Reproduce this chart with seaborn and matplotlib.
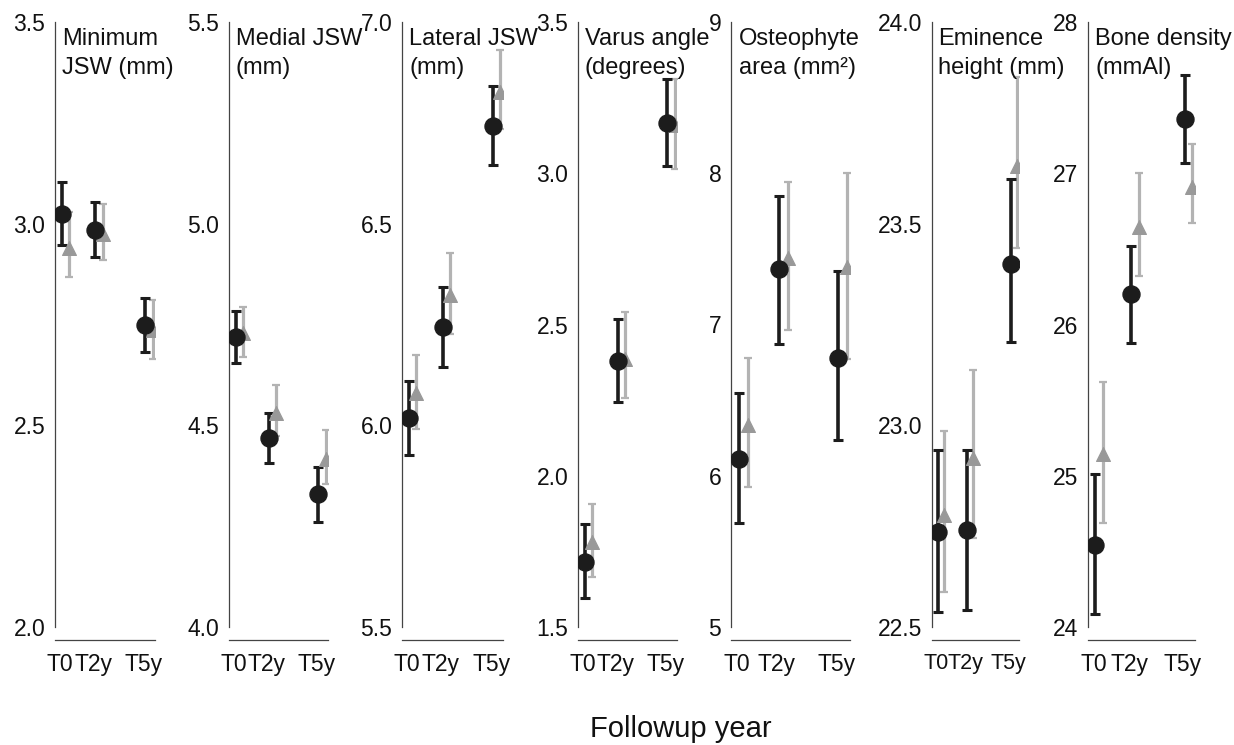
import matplotlib
matplotlib.use("Agg")
import matplotlib.pyplot as plt
import seaborn as sns
import pandas as pd

# follow-up years and their labels
years = [0, 2, 5]
year_labels = ["T0", "T2y", "T5y"]

titles = [("Minimum", "JSW (mm)"), ("Medial JSW", "(mm)"), ("Lateral JSW", "(mm)"),
          ("Varus angle", "(degrees)"), ("Osteophyte", "area (mm²)"),
          ("Eminence", "height (mm)"), ("Bone density", "(mmAl)")]
ylims = [(2.0, 3.5), (4.0, 5.5), (5.5, 7.0), (1.5, 3.5), (5, 9), (22.5, 24.0), (24, 28)]
yticks = [[2.0, 2.5, 3.0, 3.5], [4.0, 4.5, 5.0, 5.5], [5.5, 6.0, 6.5, 7.0],
          [1.5, 2.0, 2.5, 3.0, 3.5], [5, 6, 7, 8, 9],
          [22.5, 23.0, 23.5, 24.0], [24, 25, 26, 27, 28]]
ytick_fmt = ["{:.1f}", "{:.1f}", "{:.1f}", "{:.1f}", "{:.0f}", "{:.1f}", "{:.0f}"]

# black circles: mean and error bar ends, per panel (T0, T2y, T5y)
circ_mean = [[3.025, 2.985, 2.75], [4.72, 4.469, 4.329], [6.017, 6.245, 6.743],
             [1.715, 2.38, 3.165], [6.113, 7.364, 6.78], [22.736, 22.74, 23.40],
             [24.543, 26.2, 27.36]]
circ_lo = [[2.948, 2.918, 2.682], [4.655, 4.406, 4.261], [5.926, 6.145, 6.645],
           [1.597, 2.245, 3.024], [5.686, 6.87, 6.234], [22.537, 22.541, 23.207],
           [24.088, 25.88, 27.071]]
circ_hi = [[3.104, 3.053, 2.816], [4.783, 4.531, 4.396], [6.111, 6.344, 6.842],
           [1.84, 2.518, 3.31], [6.55, 7.85, 7.355], [22.94, 22.94, 23.61],
           [25.011, 26.518, 27.649]]

# grey triangles
tri_mean = [[2.94, 2.975, 2.737], [4.728, 4.53, 4.416], [6.079, 6.323, 6.827],
            [1.78, 2.387, 3.16], [6.333, 7.437, 7.38], [22.777, 22.919, 23.643],
            [25.143, 26.644, 26.911]]
tri_lo = [[2.868, 2.91, 2.665], [4.67, 4.474, 4.354], [5.99, 6.226, 6.734],
          [1.666, 2.257, 3.014], [5.925, 6.962, 6.775], [22.587, 22.72, 23.439],
          [24.686, 26.322, 26.673]]
tri_hi = [[3.028, 3.048, 2.81], [4.793, 4.60, 4.488], [6.174, 6.428, 6.931],
          [1.906, 2.54, 3.31], [6.78, 7.945, 8.0], [22.986, 23.136, 23.864],
          [25.62, 27.0, 27.193]]

sns.set_style("white")
plt.rcParams['font.family'] = ['Liberation Sans', 'DejaVu Sans']

W, H = 1234, 745
fig = plt.figure(figsize=(W / 100, H / 100), dpi=100)

# panel extents in pixels (left spine, right end of x axis)
lefts = [55, 229, 402, 578, 731, 932, 1088]
rights = [155, 328, 503, 677, 850, 1019, 1195]
top_px, bot_px = 22, 627

black = "#1c1c1c"
grey = "#b3b3b3"
tri_col = "#999999"

for i in range(7):
    ax = fig.add_axes([lefts[i] / W, (H - bot_px) / H,
                       (rights[i] - lefts[i]) / W, (bot_px - top_px) / H])
    xc = [y + 0.12 for y in years]
    xt = [y + 0.55 for y in years]
    ax.errorbar(xc, circ_mean[i],
                yerr=[[m - l for m, l in zip(circ_mean[i], circ_lo[i])],
                      [h - m for m, h in zip(circ_mean[i], circ_hi[i])]],
                fmt="none", ecolor=black, elinewidth=2.6, capsize=3.3, capthick=2.2, zorder=2)
    ax.errorbar(xt, tri_mean[i],
                yerr=[[m - l for m, l in zip(tri_mean[i], tri_lo[i])],
                      [h - m for m, h in zip(tri_mean[i], tri_hi[i])]],
                fmt="none", ecolor=grey, elinewidth=2.3, capsize=2.6, capthick=1.6, zorder=1)
    dc = pd.DataFrame({"x": xc, "y": circ_mean[i]})
    dt = pd.DataFrame({"x": xt, "y": tri_mean[i]})
    sns.scatterplot(data=dt, x="x", y="y", marker="^", s=100, color=tri_col,
                    edgecolor=tri_col, ax=ax, zorder=3)
    sns.scatterplot(data=dc, x="x", y="y", marker="o", s=150, color=black,
                    edgecolor=black, ax=ax, zorder=4)

    ax.set_xlim(-0.3, 5.7)
    ax.set_ylim(*ylims[i])
    ax.set_xticks(years)
    ax.set_xticklabels(year_labels)
    ax.set_yticks(yticks[i])
    ax.set_yticklabels([ytick_fmt[i].format(v) for v in yticks[i]])
    ax.set_xlabel("")
    ax.set_ylabel("")
    for s in ["top", "right"]:
        ax.spines[s].set_visible(False)
    for s in ["left", "bottom"]:
        ax.spines[s].set_color("#444444")
        ax.spines[s].set_linewidth(0.9)
    ax.spines["bottom"].set_position(("outward", 9.5))
    ax.tick_params(axis="both", direction="out", length=5, width=0.8,
                   colors="#444444", labelcolor="#111111", labelsize=16.5, pad=2)
    ax.tick_params(axis="x", pad=4)
    if i == 5:
        ax.tick_params(axis="x", labelsize=15.5)
    # two-line panel title, one text per line
    ax.text(0.07, 0.99, titles[i][0], transform=ax.transAxes, ha="left", va="top",
            fontsize=17, color="#111111")
    ax.text(0.07, 0.942, titles[i][1], transform=ax.transAxes, ha="left", va="top",
            fontsize=17, color="#111111")

fig.text(0.552, 0.022, "Followup year", ha="center", va="center", fontsize=21, color="#111111")

fig.savefig("out.png", dpi=100, facecolor="white")
